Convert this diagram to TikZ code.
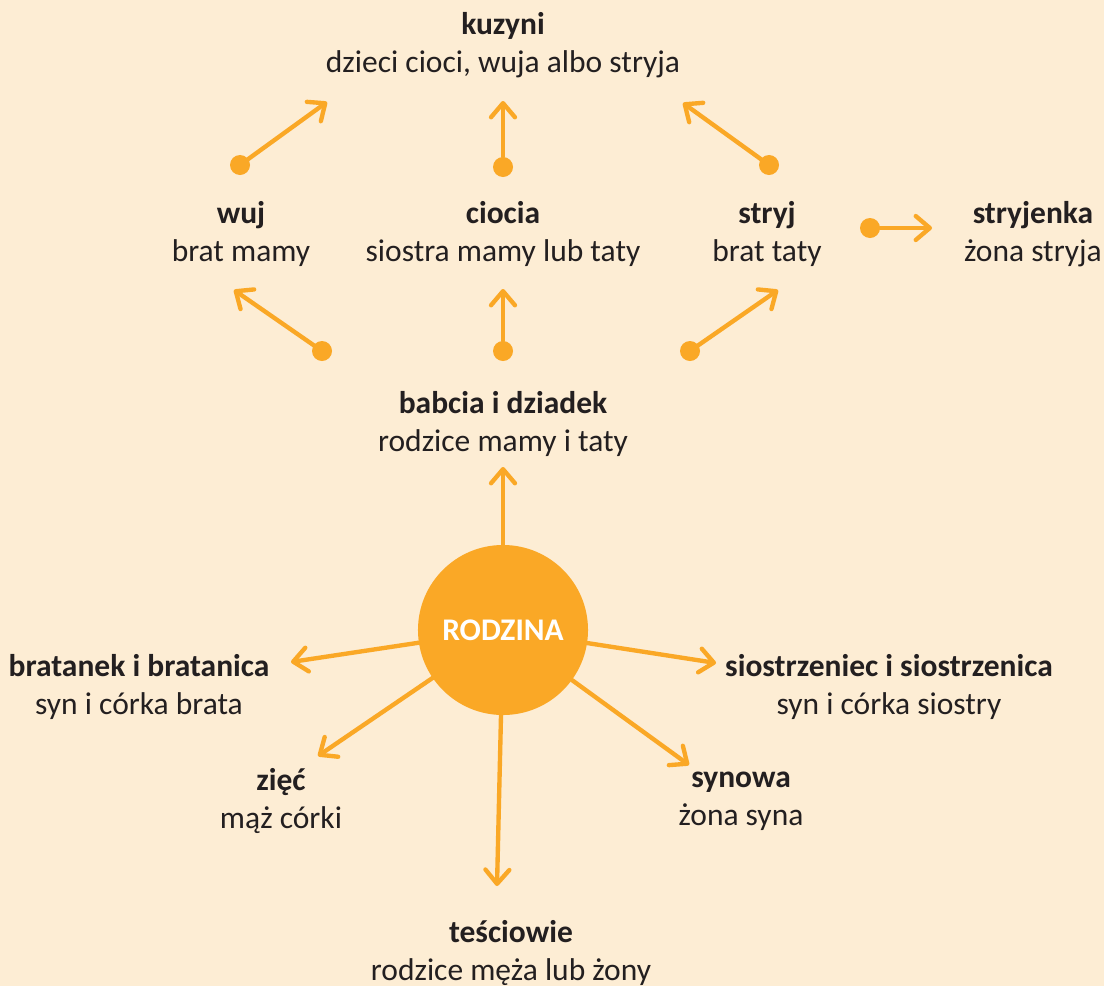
\documentclass[tikz,border=0pt]{standalone}
\usepackage{fontspec}
\setmainfont{Carlito}
\usetikzlibrary{arrows.meta,positioning}
\definecolor{bgcream}{RGB}{253,237,212}
\definecolor{sunorange}{RGB}{250,168,38}
\definecolor{ink}{RGB}{35,31,32}

\begin{document}
\begin{tikzpicture}[
    x=0.025cm, y=-0.025cm,
    lbl/.style={align=center, text=ink, font=\fontsize{22.4}{27}\selectfont},
    arrow/.style={sunorange, line width=3.1pt, line cap=round,
        -{Straight Barb[length=10pt, width=17pt, round]}},
    dot/.style={circle, fill=sunorange, inner sep=0pt, minimum size=0.5cm},
    hub/.style={circle, fill=sunorange, inner sep=0pt, minimum size=4.25cm,
        text=white, font=\fontsize{22.4}{26}\selectfont\bfseries}
]
    % Background
    \fill[bgcream] (0,0) rectangle (1104,986);
    \useasboundingbox (0,0) rectangle (1104,986);

    % Top row
    \node[lbl] (kuzyni) at (503,45) {\textbf{kuzyni}\\dzieci cioci, wuja albo stryja};

    % Middle row
    \node[lbl] (wuj) at (241,234) {\textbf{wuj}\\brat mamy};
    \node[lbl] (ciocia) at (503,234) {\textbf{ciocia}\\siostra mamy lub taty};
    \node[lbl] (stryj) at (767,234) {\textbf{stryj}\\brat taty};
    \node[lbl] (stryjenka) at (1033,234) {\textbf{stryjenka}\\żona stryja};

    % Grandparents
    \node[lbl] (babcia) at (503,424) {\textbf{babcia i dziadek}\\rodzice mamy i taty};

    % Centre
    \node[hub] (rodzina) at (503,630) {RODZINA};

    % Lower ring
    \node[lbl] (bratanek) at (139,687) {\textbf{bratanek i bratanica}\\syn i córka brata};
    \node[lbl] (siostrzeniec) at (889,687) {\textbf{siostrzeniec i siostrzenica}\\syn i córka siostry};
    \node[lbl] (ziec) at (281,801) {\textbf{zięć}\\mąż córki};
    \node[lbl] (synowa) at (741,801) {\textbf{synowa}\\żona syna};
    \node[lbl] (tesciowie) at (511,953) {\textbf{teściowie}\\rodzice męża lub żony};

    % Dots
    \node[dot] (d1) at (240,165) {};
    \node[dot] (d2) at (503,167) {};
    \node[dot] (d3) at (769,165) {};
    \node[dot] (d4) at (322,351) {};
    \node[dot] (d5) at (503,351) {};
    \node[dot] (d6) at (690,351) {};
    \node[dot] (d7) at (870,228) {};

    % Arrow tips
    \coordinate (t1) at (327,102);
    \coordinate (t2) at (503,101);
    \coordinate (t3) at (683,103);
    \coordinate (t4) at (234,290);
    \coordinate (t5) at (503,289);
    \coordinate (t6) at (778,290);
    \coordinate (t7) at (932,228);
    \coordinate (t8) at (503,467);
    \coordinate (t9) at (291,662);
    \coordinate (t10) at (716,663);
    \coordinate (t11) at (318,756);
    \coordinate (t12) at (689,765);
    \coordinate (t13) at (497,886);

    % Connectors
    \draw[arrow] (d1) -- (t1);
    \draw[arrow] (d2) -- (t2);
    \draw[arrow] (d3) -- (t3);
    \draw[arrow] (d4) -- (t4);
    \draw[arrow] (d5) -- (t5);
    \draw[arrow] (d6) -- (t6);
    \draw[arrow] (d7) -- (t7);
    \draw[arrow] (rodzina) -- (t8);
    \draw[arrow] (rodzina) -- (t9);
    \draw[arrow] (rodzina) -- (t10);
    \draw[arrow] (rodzina) -- (t11);
    \draw[arrow] (rodzina) -- (t12);
    \draw[arrow] (rodzina) -- (t13);
\end{tikzpicture}
\end{document}
